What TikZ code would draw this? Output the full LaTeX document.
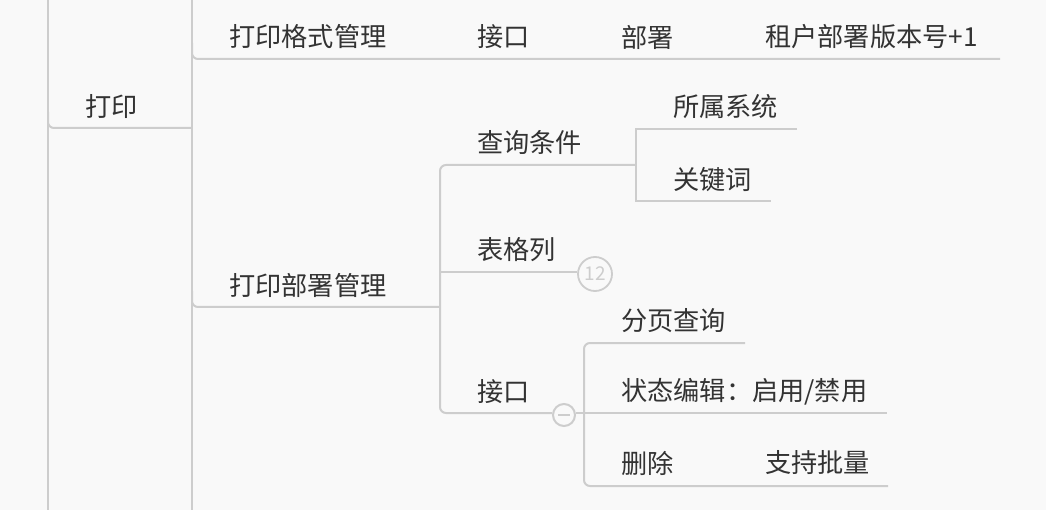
\documentclass[tikz,border=0pt]{standalone}
\usepackage{fontspec}
\setmainfont{Noto Sans CJK SC}
\definecolor{paper}{HTML}{F9F9F9}
\definecolor{linegray}{HTML}{CDCDCD}
\definecolor{ink}{HTML}{333333}
\tikzset{
  topic/.style={anchor=west, inner sep=0pt, text=ink, font=\fontsize{26.2}{30}\selectfont},
  branch/.style={line width=2pt, draw=linegray},
  curved/.style={branch, rounded corners=6pt},
  badge/.style={circle, draw=linegray, line width=1.8pt, inner sep=0pt, minimum size=34pt,
    text=linegray, font=\fontsize{19}{20}\selectfont},
  foldbtn/.style={circle, draw=linegray, line width=2pt, inner sep=0pt, minimum size=22pt}
}
\begin{document}
\begin{tikzpicture}[x=1pt,y=-1pt]
\fill[paper] (0,0) rectangle (1046,510);
\useasboundingbox (0,0) rectangle (1046,510);
% spines of the outer levels
\draw[branch] (48,0) -- (48,510);
\draw[branch] (192,0) -- (192,510);
% level 1
\node[topic] (print) at (85,107) {打印};
\draw[curved] (48,112) |- (192,128);
% format branch
\node[topic] (fmt) at (229,37) {打印格式管理};
\node[topic] (fmtapi) at (477,37) {接口};
\node[topic] (deploy) at (621,37) {部署};
\node[topic] (ver) at (765,37) {租户部署版本号+1};
\draw[curved] (192,43) |- (1000,59);
% deployment branch
\node[topic] (dep) at (229,286) {打印部署管理};
\draw[curved] (192,291) |- (440,307);
\node[topic] (query) at (477,143) {查询条件};
\node[topic] (cols) at (477,250) {表格列};
\node[topic] (api) at (477,392) {接口};
\node[badge] (cnt) at (595,274) {12};
\node[foldbtn] (fold) at (564,415) {};
\draw[branch] (558,415) -- (570,415);
\draw[curved] (636,165) -- (440,165) -- (440,413) -- (fold.west |- 0,413);
\draw[branch] (440,272) -- (cnt.west |- 0,272);
% query conditions
\node[topic] (sys) at (673,107) {所属系统};
\node[topic] (kw) at (673,180) {关键词};
\draw[branch] (797,129) -- (636,129) -- (636,201) -- (771,201);
% interface items
\node[topic] (page) at (621,321) {分页查询};
\node[topic] (state) at (621,392) {状态编辑：启用/禁用};
\node[topic] (del) at (621,463) {删除};
\node[topic] (batch) at (765,463) {支持批量};
\draw[curved] (745,343) -- (584,343) -- (584,486) -- (888,486);
\draw[branch] (fold.east |- 0,413) -- (887,413);
\end{tikzpicture}
\end{document}
